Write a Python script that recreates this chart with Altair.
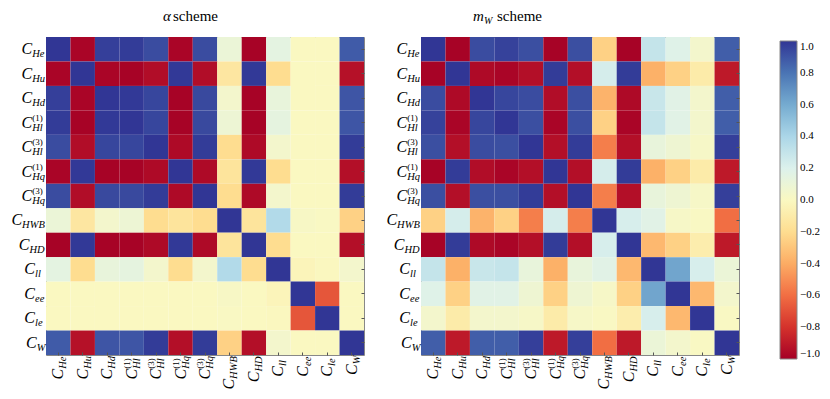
import altair as alt
import pandas as pd

# ---------------- data ----------------
KEYS = ["He", "Hu", "Hd", "Hl1", "Hl3", "Hq1", "Hq3", "HWB", "HD", "ll", "ee", "le", "W"]
SUBS = ["He", "Hu", "Hd", "Hl", "Hl", "Hq", "Hq", "HWB", "HD", "ll", "ee", "le", "W"]
SUPS = ["", "", "", "(1)", "(3)", "(1)", "(3)", "", "", "", "", "", ""]

ALPHA = [
    [1.00, -0.98, 0.97, 0.98, 0.93, -0.98, 0.93, 0.10, -0.99, 0.15, 0.00, 0.00, 0.88],
    [-0.98, 1.00, -0.98, -0.99, -0.95, 0.99, -0.95, -0.13, 0.99, -0.20, 0.00, 0.00, -0.93],
    [0.97, -0.98, 1.00, 0.99, 0.95, -0.99, 0.94, 0.05, -0.99, 0.12, 0.00, 0.00, 0.90],
    [0.98, -0.99, 0.99, 1.00, 0.95, -0.99, 0.94, 0.09, -0.99, 0.14, 0.00, 0.00, 0.90],
    [0.93, -0.95, 0.95, 0.95, 1.00, -0.96, 0.98, -0.20, -0.96, 0.05, 0.00, 0.00, 0.98],
    [-0.98, 0.99, -0.99, -0.99, -0.96, 1.00, -0.96, -0.15, 0.99, -0.20, 0.00, 0.00, -0.94],
    [0.93, -0.95, 0.94, 0.94, 0.98, -0.96, 1.00, -0.20, -0.96, 0.05, 0.00, 0.00, 0.98],
    [0.10, -0.13, 0.05, 0.09, -0.20, -0.15, -0.20, 1.00, -0.15, 0.37, 0.02, 0.01, -0.25],
    [-0.99, 0.99, -0.99, -0.99, -0.96, 0.99, -0.96, -0.15, 1.00, -0.20, 0.00, 0.00, -0.94],
    [0.15, -0.20, 0.12, 0.14, 0.05, -0.20, 0.05, 0.37, -0.20, 1.00, -0.03, -0.01, 0.05],
    [0.00, 0.00, 0.00, 0.00, 0.00, 0.00, 0.00, 0.02, 0.00, -0.03, 1.00, -0.68, 0.00],
    [0.00, 0.00, 0.00, 0.00, 0.00, 0.00, 0.00, 0.01, 0.00, -0.01, -0.68, 1.00, 0.00],
    [0.88, -0.93, 0.90, 0.90, 0.98, -0.94, 0.98, -0.25, -0.94, 0.05, 0.00, 0.00, 1.00],
]

MW = [
    [1.00, -0.99, 0.93, 0.96, 0.92, -0.99, 0.92, -0.25, -0.99, 0.30, 0.18, 0.05, 0.87],
    [-0.99, 1.00, -0.96, -0.98, -0.94, 0.98, -0.94, 0.23, 0.98, -0.38, -0.25, -0.10, -0.90],
    [0.93, -0.96, 1.00, 0.95, 0.93, -0.95, 0.92, -0.37, -0.96, 0.28, 0.17, 0.05, 0.87],
    [0.96, -0.98, 0.95, 1.00, 0.92, -0.98, 0.92, -0.25, -0.98, 0.30, 0.17, 0.05, 0.87],
    [0.92, -0.94, 0.93, 0.92, 1.00, -0.94, 0.98, -0.55, -0.94, 0.12, 0.08, 0.03, 0.97],
    [-0.99, 0.98, -0.95, -0.98, -0.94, 1.00, -0.94, 0.23, 0.98, -0.38, -0.25, -0.10, -0.90],
    [0.92, -0.94, 0.92, 0.92, 0.98, -0.94, 1.00, -0.55, -0.94, 0.12, 0.08, 0.03, 0.97],
    [-0.25, 0.23, -0.37, -0.25, -0.55, 0.23, -0.55, 1.00, 0.22, 0.17, 0.03, 0.01, -0.60],
    [-0.99, 0.98, -0.96, -0.98, -0.94, 0.98, -0.94, 0.22, 1.00, -0.35, -0.25, -0.08, -0.90],
    [0.30, -0.38, 0.28, 0.30, 0.12, -0.38, 0.12, 0.17, -0.35, 1.00, 0.62, 0.22, 0.10],
    [0.18, -0.25, 0.17, 0.17, 0.08, -0.25, 0.08, 0.03, -0.25, 0.62, 1.00, -0.35, 0.05],
    [0.05, -0.10, 0.05, 0.05, 0.03, -0.10, 0.03, 0.01, -0.08, 0.22, -0.35, 1.00, 0.01],
    [0.87, -0.90, 0.87, 0.87, 0.97, -0.90, 0.97, -0.60, -0.90, 0.10, 0.05, 0.01, 1.00],
]

TICK_VALUES = [-1.0, -0.8, -0.6, -0.4, -0.2, 0.0, 0.2, 0.4, 0.6, 0.8, 1.0]

# ---------------- style ----------------
SIZE = 318
SERIF = "Liberation Serif"
GAP = 2

labels_df = pd.DataFrame({"key": KEYS, "sub": SUBS, "sup": SUPS})


def long_frame(matrix):
    rows = []
    for i, r in enumerate(matrix):
        for j, v in enumerate(r):
            rows.append({"row": KEYS[i], "col": KEYS[j], "v": v})
    return pd.DataFrame(rows)


color = alt.Color(
    "v:Q",
    scale=alt.Scale(scheme="redyellowblue", domain=[-1, 1]),
    legend=alt.Legend(
        orient="none",
        legendX=734,
        legendY=4,
        title=None,
        direction="vertical",
        gradientLength=SIZE,
        gradientThickness=17,
        gradientStrokeColor="#888888",
        gradientStrokeWidth=1,
        values=TICK_VALUES,
        format=".1f",
        labelFont=SERIF,
        labelFontSize=11,
        labelColor="#000000",
        labelOffset=3,
        labelOverlap=False,
    ),
)


def inner_ticks(orient):
    return alt.Axis(
        orient=orient, labels=False, domain=False, ticks=True, tickSize=3,
        offset=-3, tickColor="#555555", tickWidth=1, title=None, grid=False,
        minExtent=0, maxExtent=0, zindex=1,
    )


def label_base():
    return (
        alt.Chart(labels_df)
        .transform_calculate(
            up="length(replace(datum.sub, regexp('[a-z]', 'g'), ''))"
        )
        .transform_calculate(
            w="max(datum.up*7.3 + (length(datum.sub)-datum.up)*4.5, datum.sup != '' ? 10.5 : 0)"
        )
        .transform_calculate(
            sx=f"-{GAP} - datum.w",
            sy=f"{SIZE} + {GAP} + datum.w",
        )
    )


def panel(matrix, title_parts):
    heat = (
        alt.Chart(long_frame(matrix))
        .mark_rect()
        .encode(
            x=alt.X("col:N", sort=KEYS, axis=inner_ticks("bottom")),
            y=alt.Y("row:N", sort=KEYS, axis=inner_ticks("right")),
            color=color,
        )
    )
    yk = alt.Y("key:N", sort=KEYS, axis=None, scale=alt.Scale(domain=KEYS))
    xk = alt.X("key:N", sort=KEYS, axis=None, scale=alt.Scale(domain=KEYS))
    base = label_base()
    # y-axis labels (left)
    yC = base.mark_text(text="C", font=SERIF, fontSize=16, fontStyle="italic",
                        align="right", baseline="alphabetic", dy=5).encode(
        x=alt.X("sx:Q", scale=None), y=yk)
    ySub = base.mark_text(font=SERIF, fontSize=10.5, fontStyle="italic",
                          align="left", baseline="alphabetic", dy=8).encode(
        x=alt.X("sx:Q", scale=None), y=yk, text="sub:N")
    ySup = base.transform_filter("datum.sup != ''").mark_text(
        font=SERIF, fontSize=9, align="left", baseline="alphabetic", dy=-2).encode(
        x=alt.X("sx:Q", scale=None), y=yk, text="sup:N")
    # x-axis labels (bottom, rotated)
    xC = base.mark_text(text="C", font=SERIF, fontSize=16, fontStyle="italic",
                        align="right", baseline="alphabetic", angle=270, dy=5).encode(
        x=xk, y=alt.Y("sy:Q", scale=None))
    xSub = base.mark_text(font=SERIF, fontSize=10.5, fontStyle="italic",
                          align="left", baseline="alphabetic", angle=270, dy=8).encode(
        x=xk, y=alt.Y("sy:Q", scale=None), text="sub:N")
    xSup = base.transform_filter("datum.sup != ''").mark_text(
        font=SERIF, fontSize=9, align="left", baseline="alphabetic", angle=270, dy=-2).encode(
        x=xk, y=alt.Y("sy:Q", scale=None), text="sup:N")

    layers = [heat, yC, ySub, ySup, xC, xSub, xSup]
    for part in title_parts:
        txt, xpos, ypos, fsize, style = part
        layers.append(
            alt.Chart(pd.DataFrame({"t": [txt]}))
            .mark_text(font=SERIF, fontSize=fsize, fontStyle=style,
                       align="left", baseline="alphabetic")
            .encode(text="t:N", x=alt.value(xpos), y=alt.value(ypos))
        )
    return alt.layer(*layers).resolve_scale(x="independent", y="independent").properties(
        width=SIZE, height=SIZE)


left = panel(ALPHA, [("α", 117, -16, 15, "italic"), ("scheme", 127, -16, 15, "normal")])
right = panel(MW, [("m", 52, -16, 15, "italic"), ("W", 63, -13, 10, "italic"),
                   ("scheme", 76, -16, 15, "normal")])

chart = (
    alt.hconcat(left, right, spacing=20)
    .resolve_scale(color="shared")
    .properties(padding={"left": 2, "top": 0, "right": 0, "bottom": 0})
    .configure_view(stroke="#888888", strokeWidth=1)
)

chart.save("out.html", embed_options={"renderer": "svg", "actions": False})
